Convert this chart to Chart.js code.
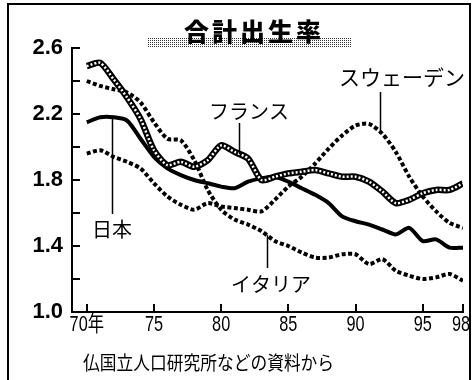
<!DOCTYPE html>
<html>
<head>
  <title>合計出生率</title>
  <script src="https://cdn.jsdelivr.net/npm/chart.js"></script>
  <style>
    html, body { margin: 0; padding: 0; background: #fff; }
    #wrap { position: relative; width: 473px; height: 380px; }
  </style>
</head>
<body>
  <div id="wrap">
    <canvas id="tfrChart" width="473" height="380"></canvas>
  </div>
  <script>
    const years = [1970, 1971, 1972, 1973, 1974, 1975, 1976, 1977, 1978, 1979,
                   1980, 1981, 1982, 1983, 1984, 1985, 1986, 1987, 1988, 1989,
                   1990, 1991, 1992, 1993, 1994, 1995, 1996, 1997, 1998];
    const japan  = [2.15, 2.18, 2.18, 2.16, 2.05, 1.94, 1.87, 1.83, 1.80, 1.78,
                    1.76, 1.75, 1.79, 1.81, 1.82, 1.79, 1.75, 1.71, 1.66, 1.58,
                    1.55, 1.53, 1.50, 1.47, 1.51, 1.43, 1.44, 1.39, 1.39];
    const france = [2.49, 2.51, 2.41, 2.30, 2.17, 1.98, 1.89, 1.91, 1.88, 1.92,
                    2.01, 1.97, 1.93, 1.80, 1.82, 1.84, 1.85, 1.86, 1.84, 1.82,
                    1.82, 1.79, 1.73, 1.66, 1.68, 1.72, 1.74, 1.74, 1.78];
    const sweden = [1.96, 1.98, 1.94, 1.91, 1.87, 1.78, 1.70, 1.65, 1.62, 1.66,
                    1.64, 1.63, 1.62, 1.61, 1.68, 1.76, 1.82, 1.90, 1.99, 2.07,
                    2.13, 2.14, 2.08, 1.97, 1.82, 1.70, 1.61, 1.54, 1.51];
    const italy  = [2.40, 2.37, 2.35, 2.33, 2.27, 2.15, 2.05, 2.04, 1.92, 1.74,
                    1.62, 1.56, 1.53, 1.49, 1.43, 1.40, 1.36, 1.33, 1.33, 1.35,
                    1.35, 1.29, 1.32, 1.25, 1.22, 1.20, 1.21, 1.23, 1.19];

    const yearTicks = [1970, 1975, 1980, 1985, 1990, 1995, 1998];
    const yearLabels = ['70年', '75', '80', '85', '90', '95', '98'];
    const rateTicks = [1.0, 1.2, 1.4, 1.6, 1.8, 2.0, 2.2, 2.4, 2.6];
    const rateLabels = ['1.0', '1.4', '1.8', '2.2', '2.6'];

    const pts = vals => vals.map((v, i) => ({ x: years[i], y: v }));

    // line value between two yearly points, used to hit the line with the pointers
    function valueAt(series, year) {
      const i = Math.floor(year - years[0]);
      const f = year - years[0] - i;
      return series[i] + (series[i + 1] - series[i]) * f;
    }

    const CJK = '"Noto Sans CJK JP", "Noto Sans CJK SC", sans-serif';

    const decorations = {
      id: 'decorations',
      beforeDraw(chart) {
        const ctx = chart.ctx;
        ctx.save();
        ctx.fillStyle = '#fff';
        ctx.fillRect(0, 0, chart.width, chart.height);
        // outer frame (open at the bottom)
        ctx.strokeStyle = '#000';
        ctx.lineWidth = 2;
        ctx.beginPath();
        ctx.moveTo(8, 380);
        ctx.lineTo(8, 4);
        ctx.lineTo(470, 4);
        ctx.lineTo(470, 380);
        ctx.stroke();
        ctx.restore();
      },
      afterDraw(chart) {
        const ctx = chart.ctx;
        const xs = chart.scales.x, ys = chart.scales.y;
        const { left, bottom } = chart.chartArea;
        ctx.save();

        // inward tick marks
        ctx.strokeStyle = '#000';
        ctx.lineWidth = 2;
        ctx.beginPath();
        yearTicks.forEach(v => {
          const px = Math.round(xs.getPixelForValue(v));
          ctx.moveTo(px, bottom);
          ctx.lineTo(px, bottom - 8);
        });
        rateTicks.forEach(v => {
          const py = Math.round(ys.getPixelForValue(v));
          ctx.moveTo(left, py);
          ctx.lineTo(left + 8, py);
        });
        ctx.stroke();

        // narrow year labels under the axis
        ctx.fillStyle = '#000';
        ctx.textBaseline = 'middle';
        ctx.font = '22px "Liberation Sans", Arial, ' + CJK;
        yearTicks.forEach((v, i) => {
          const px = xs.getPixelForValue(v);
          const last = i === yearTicks.length - 1;
          ctx.save();
          ctx.translate(last ? 470 : px, 325);
          ctx.scale(0.74, 1);
          ctx.textAlign = last ? 'right' : 'center';
          ctx.fillText(yearLabels[i], 0, 0);
          ctx.restore();
        });

        // halftone band under the title
        const tile = document.createElement('canvas');
        tile.width = 2; tile.height = 2;
        const tc = tile.getContext('2d');
        tc.fillStyle = '#fff';
        tc.fillRect(0, 0, 2, 2);
        tc.fillStyle = '#333';
        tc.fillRect(0, 0, 1, 1);
        ctx.fillStyle = ctx.createPattern(tile, 'repeat');
        ctx.fillRect(148, 37, 204, 10);

        // title
        ctx.fillStyle = '#000';
        ctx.textAlign = 'center';
        ctx.letterSpacing = '3px';
        ctx.font = '900 25px ' + CJK;
        ctx.fillText('合計出生率', 254, 31);
        ctx.letterSpacing = '0px';

        // series names with pointer lines
        const notes = [
          { text: 'スウェーデン', size: 21, tx: 402, ty: 77, series: sweden, year: 1991.8, end: 92 },
          { text: 'フランス', size: 20, tx: 249, ty: 111, series: france, year: 1981.3, end: 123 },
          { text: '日本', size: 20, tx: 112, ty: 229, series: japan, year: 1971.9, end: 214 },
          { text: 'イタリア', size: 20, tx: 271, ty: 284, series: italy, year: 1983.4, end: 268 }
        ];
        ctx.lineWidth = 1.5;
        notes.forEach(n => {
          ctx.font = n.size + 'px ' + CJK;
          ctx.fillText(n.text, n.tx, n.ty);
          const px = Math.round(xs.getPixelForValue(n.year)) + 0.5;
          const py = ys.getPixelForValue(valueAt(n.series, n.year));
          ctx.beginPath();
          ctx.moveTo(px, n.end);
          ctx.lineTo(px, py);
          ctx.stroke();
        });

        // source note
        ctx.textAlign = 'left';
        ctx.font = '18px ' + CJK;
        ctx.save();
        ctx.translate(83, 363);
        ctx.scale(0.93, 1.05);
        ctx.fillText('仏国立人口研究所などの資料から', 0, 0);
        ctx.restore();
        ctx.restore();
      }
    };

    const dotted = { borderColor: '#000', borderWidth: 4, borderDash: [4, 2.5], borderCapStyle: 'butt' };

    // dataset 0 is painted last, so the France pair comes first (white stitching on top)
    new Chart(document.getElementById('tfrChart'), {
      type: 'line',
      data: {
        datasets: [
          { label: 'フランス', data: pts(france), borderColor: '#fff', borderWidth: 2.5, borderDash: [2, 2] },
          { label: 'フランス', data: pts(france), borderColor: '#000', borderWidth: 6.5 },
          { label: '日本', data: pts(japan), borderColor: '#000', borderWidth: 4 },
          { label: 'スウェーデン', data: pts(sweden), ...dotted },
          { label: 'イタリア', data: pts(italy), ...dotted }
        ]
      },
      options: {
        responsive: false,
        animation: false,
        events: [],
        layout: { padding: { top: 48, right: 10, left: 0, bottom: 0 } },
        elements: {
          point: { radius: 0 },
          line: { tension: 0.25, borderJoinStyle: 'round', fill: false }
        },
        plugins: { legend: { display: false }, title: { display: false }, tooltip: { enabled: false } },
        scales: {
          x: {
            type: 'linear',
            min: 1968.9,
            max: 1998,
            grid: { display: false, drawTicks: false },
            border: { display: true, color: '#000', width: 2 },
            afterBuildTicks: s => { s.ticks = yearTicks.map(v => ({ value: v })); },
            afterFit: s => { s.height = 68; },
            ticks: { display: false }
          },
          y: {
            min: 1.0,
            max: 2.6,
            grid: { display: false, drawTicks: false },
            border: { display: true, color: '#000', width: 2 },
            afterBuildTicks: s => { s.ticks = rateTicks.map(v => ({ value: v })); },
            afterFit: s => { s.width = 72; },
            ticks: {
              padding: 9,
              color: '#000',
              font: { family: '"Liberation Sans", Arial, sans-serif', size: 22, weight: 'bold' },
              callback: v => {
                const t = v.toFixed(1);
                return rateLabels.includes(t) ? t : '';
              }
            }
          }
        }
      },
      plugins: [decorations]
    });
  </script>
</body>
</html>
